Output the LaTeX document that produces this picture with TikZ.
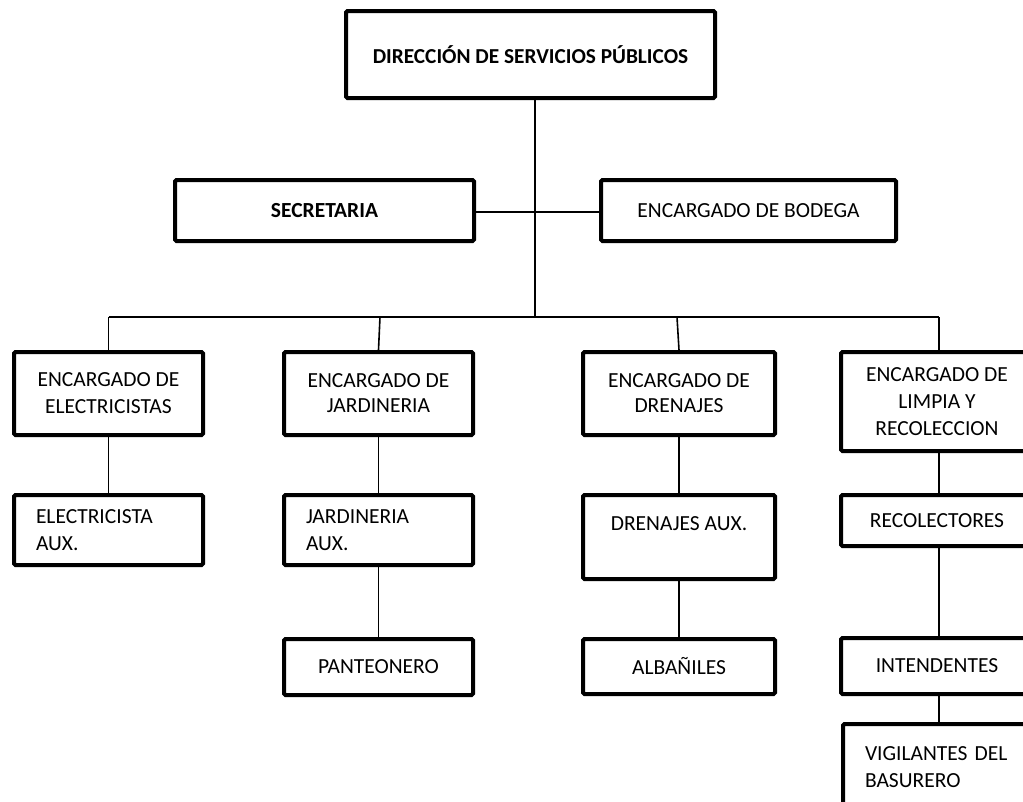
\documentclass[tikz,border=0pt]{standalone}
\usepackage{fontspec}
\setmainfont{Carlito}
\begin{document}
\begin{tikzpicture}[x=1pt,y=-1pt,
  box/.style={draw=black, line width=4pt, rounded corners=1.5pt, inner sep=0pt,
    font=\fontsize{21.5}{27}\selectfont, align=center, fill=white},
  lbox/.style={box, align=left, inner xsep=22pt},
  conn/.style={draw=black, line width=1.6pt}]
\useasboundingbox (0,0) rectangle (1023,801);
\clip (0,0) rectangle (1023,801);
\fill[white] (0,0) rectangle (1023,801);

% top levels
\node[box, minimum width=369pt, minimum height=87pt, font=\fontsize{21.3}{24}\selectfont\bfseries] (top) at (530.5,54.5) {DIRECCIÓN DE SERVICIOS PÚBLICOS};
\node[box, minimum width=299pt, minimum height=61pt, font=\fontsize{21.5}{24}\selectfont\bfseries] (secr) at (324.5,210.5) {SECRETARIA};
\node[box, minimum width=295pt, minimum height=61pt] (bod) at (748.5,210.5) {ENCARGADO DE BODEGA};

% row 1
\node[box, minimum width=189pt, minimum height=83pt] (elec) at (108.5,393.5) {ENCARGADO DE\\ELECTRICISTAS};
\node[box, minimum width=189pt, minimum height=83pt] (jard) at (378.5,393.5) {ENCARGADO DE\\[-2pt]JARDINERIA};
\node[box, minimum width=192pt, minimum height=83pt] (dren) at (679,393.5) {ENCARGADO DE\\[-2pt]DRENAJES};
\node[box, minimum width=192pt, minimum height=99pt] (limp) at (937,401.5) {ENCARGADO DE\\LIMPIA Y\\RECOLECCION};

% row 2
\node[lbox, text width=145pt, minimum height=70pt] (elecaux) at (108.5,530) {ELECTRICISTA\\AUX.};
\node[lbox, text width=145pt, minimum height=70pt] (jardaux) at (378.5,530) {JARDINERIA\\AUX.};
\node[box, minimum width=192pt, minimum height=84pt] (drenaux) at (679,537) {DRENAJES AUX.\\\mbox{}};
\node[box, minimum width=192pt, minimum height=51pt] (recol) at (937,520.5) {RECOLECTORES};

% row 3
\node[box, minimum width=189pt, minimum height=56pt] (pant) at (378.5,667) {PANTEONERO};
\node[box, minimum width=192pt, minimum height=55pt] (alba) at (679,666.5) {ALBAÑILES};
\node[box, minimum width=192pt, minimum height=56pt] (inte) at (937,666) {INTENDENTES};
\node[lbox, text width=170pt, minimum height=86pt, anchor=west] (vigi) at (841,767) {\mbox{VIGILANTES DEL}\\BASURERO};

% bus coordinates
\coordinate (bus) at (535,317);
\coordinate (b1) at (108.5,317);
\coordinate (b2) at (380,317);
\coordinate (b3) at (677,317);
\coordinate (b4) at (939,317);
\coordinate (sx) at (535,212);

\draw[conn] (top.south -| bus) -- (bus);
\draw[conn] (secr.east |- sx) -- (bod.west |- sx);
\draw[conn] (b1) -- (b4);
\draw[conn] (b1) -- (elec.north);
\draw[conn] (b2) -- (jard.north);
\draw[conn] (b3) -- (dren.north);
\draw[conn] (b4) -- (limp.north -| b4);
\draw[conn] (elec.south) -- (elecaux.north);
\draw[conn] (jard.south) -- (jardaux.north);
\draw[conn] (jardaux.south) -- (pant.north);
\draw[conn] (dren.south) -- (drenaux.north);
\draw[conn] (drenaux.south) -- (alba.north);
\draw[conn] (limp.south -| b4) -- (recol.north -| b4);
\draw[conn] (recol.south -| b4) -- (inte.north -| b4);
\draw[conn] (inte.south -| b4) -- (vigi.north -| b4);
\end{tikzpicture}
\end{document}
